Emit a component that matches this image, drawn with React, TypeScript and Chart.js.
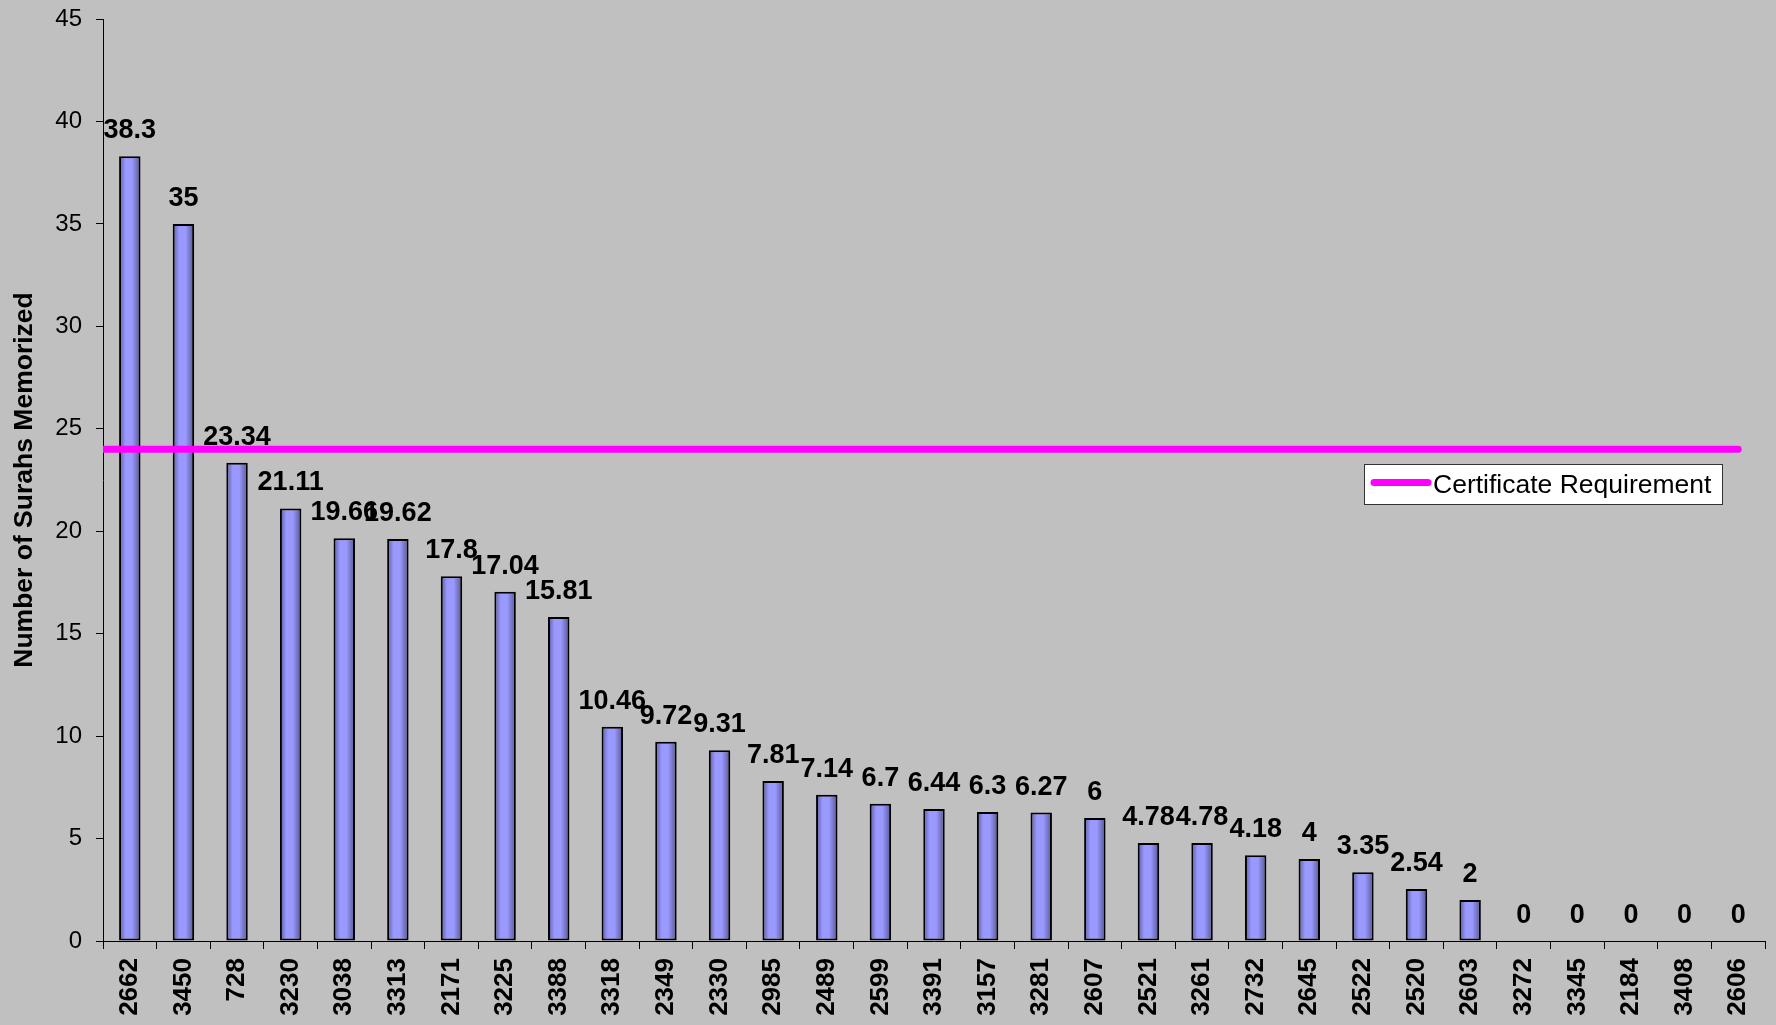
import React, { useEffect, useRef } from "react";
import { Chart, registerables } from "chart.js";

Chart.register(...registerables);

const categories = [
  "2662", "3450", "728", "3230", "3038", "3313", "2171", "3225", "3388", "3318",
  "2349", "2330", "2985", "2489", "2599", "3391", "3157", "3281", "2607", "2521",
  "3261", "2732", "2645", "2522", "2520", "2603", "3272", "3345", "2184", "3408", "2606",
];
const surahsMemorized = [
  38.3, 35, 23.34, 21.11, 19.66, 19.62, 17.8, 17.04, 15.81, 10.46,
  9.72, 9.31, 7.81, 7.14, 6.7, 6.44, 6.3, 6.27, 6, 4.78,
  4.78, 4.18, 4, 3.35, 2.54, 2, 0, 0, 0, 0, 0,
];
const requirementValue = 24;
const requirementSpan = [0, 30.5];
const requirementLabel = "Certificate Requirement";
const yAxisTitle = "Number of Surahs Memorized";
const yMin = 0;
const yMax = 45;
const yStep = 5;

const FONT = "'Liberation Sans', Arial, sans-serif";
const BAR_PCT = 0.4;

export default function App() {
  const canvasRef = useRef<HTMLCanvasElement | null>(null);

  useEffect(() => {
    const canvas = canvasRef.current;
    if (!canvas) return;

    const dataLabels = {
      id: "dataLabels",
      afterDatasetsDraw(chart: any) {
        const ctx = chart.ctx;
        const meta = chart.getDatasetMeta(0);
        ctx.save();
        ctx.font = `bold 27px ${FONT}`;
        ctx.fillStyle = "#000";
        ctx.textAlign = "center";
        ctx.textBaseline = "alphabetic";
        meta.data.forEach((el: any, i: number) => {
          ctx.fillText(String(surahsMemorized[i]), el.x, el.y - 18);
        });
        ctx.restore();
      },
    };

    const extras = {
      id: "extras",
      afterDraw(chart: any) {
        const ctx = chart.ctx;
        const area = chart.chartArea;
        ctx.save();
        ctx.font = `bold 26.5px ${FONT}`;
        ctx.fillStyle = "#000";
        ctx.textAlign = "center";
        ctx.textBaseline = "middle";
        ctx.translate(25, (area.top + area.bottom) / 2);
        ctx.rotate(-Math.PI / 2);
        ctx.fillText(yAxisTitle, 0, 0);
        ctx.restore();

        ctx.save();
        const lx = 1364, ly = 464, lw = 359, lh = 41;
        ctx.fillStyle = "#fff";
        ctx.fillRect(lx, ly, lw, lh);
        ctx.strokeStyle = "#333";
        ctx.lineWidth = 1;
        ctx.strokeRect(lx + 0.5, ly + 0.5, lw - 1, lh - 1);
        ctx.strokeStyle = "#FF00FF";
        ctx.lineWidth = 7;
        ctx.lineCap = "round";
        ctx.beginPath();
        ctx.moveTo(1374, ly + 18.5);
        ctx.lineTo(1428, ly + 18.5);
        ctx.stroke();
        ctx.font = `26.5px ${FONT}`;
        ctx.fillStyle = "#000";
        ctx.textAlign = "left";
        ctx.textBaseline = "middle";
        ctx.fillText(requirementLabel, 1433, ly + 22);
        ctx.restore();
      },
    };

    const chart = new Chart(canvas, {
      data: {
        labels: categories,
        datasets: [
          {
            type: "bar",
            label: "Surahs",
            data: surahsMemorized,
            order: 2,
            grouped: false,
            borderColor: "#000",
            borderWidth: 2,
            borderSkipped: false,
            barPercentage: BAR_PCT,
            categoryPercentage: 1,
            backgroundColor: (c: any) => {
              const ch = c.chart;
              const xs = ch.scales && ch.scales.x;
              if (!xs || c.dataIndex === undefined || !ch.chartArea) return "#9999FF";
              const cx = xs.getPixelForValue(c.dataIndex);
              const w = (xs.width / categories.length) * BAR_PCT;
              const g = ch.ctx.createLinearGradient(cx - w / 2, 0, cx + w / 2, 0);
              g.addColorStop(0, "#5A5AA0");
              g.addColorStop(0.3, "#9999FF");
              g.addColorStop(0.6, "#9999FF");
              g.addColorStop(1, "#55558F");
              return g;
            },
          } as any,
          {
            type: "line",
            label: requirementLabel,
            data: requirementSpan.map((x) => ({ x, y: requirementValue })),
            xAxisID: "x2",
            order: 0,
            borderColor: "#FF00FF",
            borderWidth: 7,
            borderCapStyle: "round",
            pointRadius: 0,
            fill: false,
          } as any,
        ],
      },
      options: {
        animation: false,
        responsive: false,
        maintainAspectRatio: false,
        layout: { padding: { top: 19, right: 11, left: 0, bottom: 0 } },
        plugins: {
          legend: { display: false },
          tooltip: { enabled: false },
        },
        scales: {
          x: {
            type: "category",
            offset: true,
            border: { display: true, color: "#000", width: 1 },
            grid: {
              offset: true,
              drawOnChartArea: false,
              drawTicks: true,
              tickLength: 8,
              color: "#000",
            },
            ticks: {
              minRotation: 90,
              maxRotation: 90,
              autoSkip: false,
              padding: 9,
              color: "#000",
              font: { family: FONT, size: 26, weight: "bold" },
            },
            afterFit: (s: any) => {
              s.height = 84;
              s.paddingLeft = 0;
              s.paddingRight = 0;
            },
          },
          x2: {
            type: "linear",
            display: false,
            min: 0,
            max: categories.length,
          },
          y: {
            min: yMin,
            max: yMax,
            border: { display: true, color: "#000", width: 1 },
            grid: {
              drawOnChartArea: false,
              drawTicks: true,
              tickLength: 7,
              color: "#000",
            },
            ticks: {
              stepSize: yStep,
              padding: 14,
              color: "#000",
              font: { family: FONT, size: 24 },
            },
            afterFit: (s: any) => {
              s.width = 103;
              s.paddingTop = 0;
              s.paddingBottom = 0;
            },
          },
        },
      } as any,
      plugins: [dataLabels, extras],
    });

    return () => chart.destroy();
  }, []);

  return (
    <div
      style={{
        position: "fixed",
        left: 0,
        top: 0,
        width: 1776,
        height: 1025,
        background: "#C0C0C0",
      }}
    >
      <canvas ref={canvasRef} width={1776} height={1025} style={{ display: "block" }} />
    </div>
  );
}
